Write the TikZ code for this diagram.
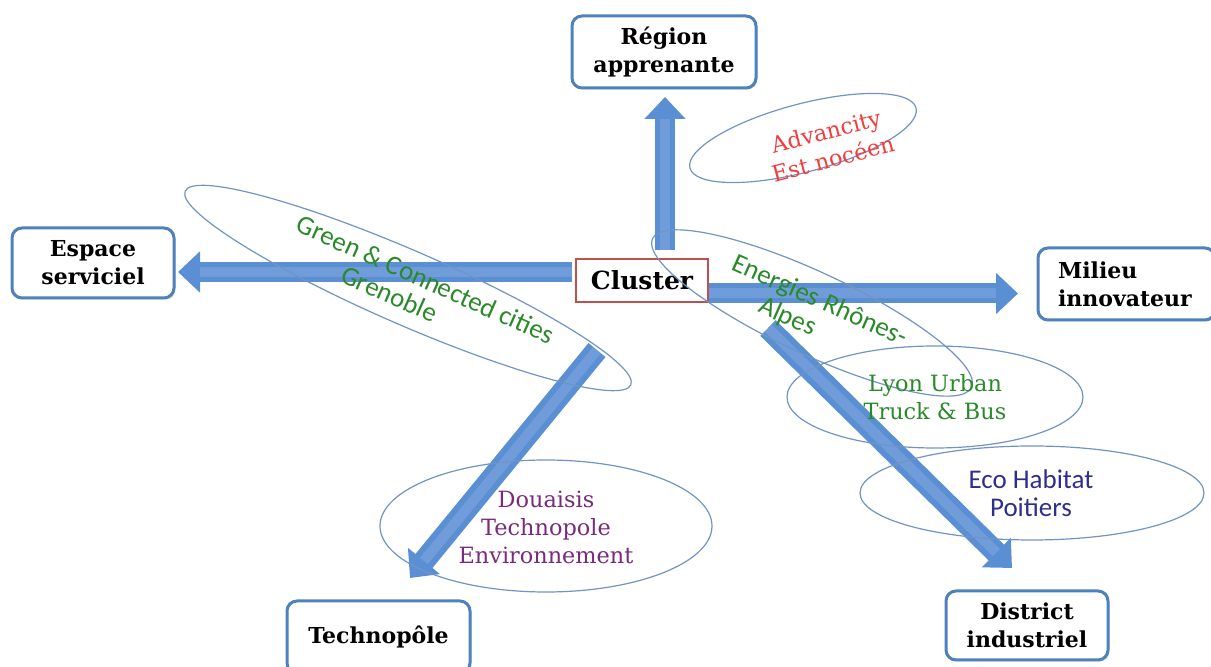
\documentclass[tikz,border=0pt]{standalone}
\usepackage{fontspec}
\setmainfont{DejaVu Serif}
\newfontfamily\calib{Carlito}
\usetikzlibrary{arrows.meta,shadows}
\definecolor{boxblue}{HTML}{4F81BD}
\definecolor{arrblue}{HTML}{5B8FD4}
\definecolor{ellblue}{HTML}{7094C4}
\definecolor{clred}{HTML}{C0504D}
\definecolor{txtred}{HTML}{F23C3C}
\definecolor{txtgreen}{HTML}{2A8A2A}
\definecolor{txtnavy}{HTML}{2E2E8E}
\definecolor{txtpurple}{HTML}{7A2A7A}
\begin{document}
\begin{tikzpicture}[x=0.5pt,y=-0.5pt,
  box/.style={draw=boxblue, line width=1.5pt, rounded corners=5pt, fill=white,
    font=\bfseries\fontsize{11}{14}\selectfont, align=center, inner sep=0pt,
    drop shadow={shadow xshift=0.8pt, shadow yshift=-0.8pt, opacity=0.2}},
  barrow/.style={line width=10pt, draw=arrblue, -{Triangle[width=20pt,length=11pt]}},
  darrow/.style={barrow, line width=11pt},
  hilite/.style={line width=5pt, draw=white, opacity=0.13, shorten >=11pt},
  ell/.style={draw=ellblue, line width=0.6pt},
  serif/.style={font=\fontsize{11.2}{14}\selectfont, align=center, inner sep=0pt},
  sans/.style={font=\calib\fontsize{13.5}{14}\selectfont, align=center, inner sep=0pt}]
\useasboundingbox (0,0) rectangle (1211,667);

% arrow end points
\coordinate (upS) at (665,250);  \coordinate (upT) at (665,97);
\coordinate (lfS) at (572,272);  \coordinate (lfT) at (178,272);
\coordinate (rtS) at (708,293.5);\coordinate (rtT) at (1018,293.5);
\coordinate (dlS) at (597,350);  \coordinate (dlT) at (410,578);
\coordinate (drS) at (768,328);  \coordinate (drT) at (1012,568);

% block arrows
\foreach \s/\t in {upS/upT, lfS/lfT, rtS/rtT}{
  \draw[barrow] (\s) -- (\t);
  \draw[hilite] (\s) -- (\t);
}
\foreach \s/\t in {dlS/dlT, drS/drT}{
  \draw[darrow] (\s) -- (\t);
  \draw[hilite] (\s) -- (\t);
}

% cluster box
\node[draw=clred, line width=1.2pt, fill=white, minimum width=66pt, minimum height=21.5pt,
  inner sep=0pt, font=\bfseries\fontsize{12.5}{14}\selectfont] (cluster) at (642,280.5) {Cluster};

% ellipses
\draw[ell, rotate around={14.9:(803,138)}] (803,138) ellipse [x radius=58.5pt, y radius=17pt];
\draw[ell, rotate around={-23.5:(408,288)}] (408,288) ellipse [x radius=121.5pt, y radius=18.5pt];
\draw[ell, rotate around={-25:(812,313)}] (812,313) ellipse [x radius=88pt, y radius=20.5pt];
\draw[ell] (935,397) ellipse [x radius=74pt, y radius=25.5pt];
\draw[ell] (1032,493) ellipse [x radius=86pt, y radius=23.5pt];
\draw[ell] (546,526) ellipse [x radius=83pt, y radius=33pt];

% ellipse texts
\node[serif, text=txtred, rotate=14.5] (tadv) at (829.5,145) {Advancity\\Est nocéen};
\node[sans, text=txtgreen, rotate=-24] (tgreen) at (420,292) {Green \& Connected cities\\Grenoble\hspace*{2em}};
\node[sans, text=txtgreen, rotate=-24] (tener) at (814,314) {Energies Rhônes-\\Alpes\hspace*{1.7em}};
\node[serif, text=txtgreen] (tlyon) at (935,397) {Lyon Urban\\Truck \& Bus};
\node[sans, text=txtnavy] (teco) at (1031,493) {Eco Habitat\\Poitiers};
\node[serif, text=txtpurple] (tdou) at (546,527) {Douaisis\\Technopole\\Environnement};

% outer boxes
\node[box, minimum width=92pt, minimum height=36pt] (region) at (664,52) {Région\\apprenante};
\node[box, minimum width=81pt, minimum height=35pt] (espace) at (93,263) {Espace\\serviciel};
\node[box, minimum width=88.5pt, minimum height=36pt, align=left, text width=68.5pt,
  inner xsep=10pt] (milieu) at (1126.5,284) {Milieu\\innovateur};
\node[box, minimum width=91.5pt, minimum height=36pt] (techno) at (378.5,637) {Technopôle};
\node[box, minimum width=81pt, minimum height=34.5pt] (district) at (1027,625.5) {District\\industriel};
\end{tikzpicture}
\end{document}
